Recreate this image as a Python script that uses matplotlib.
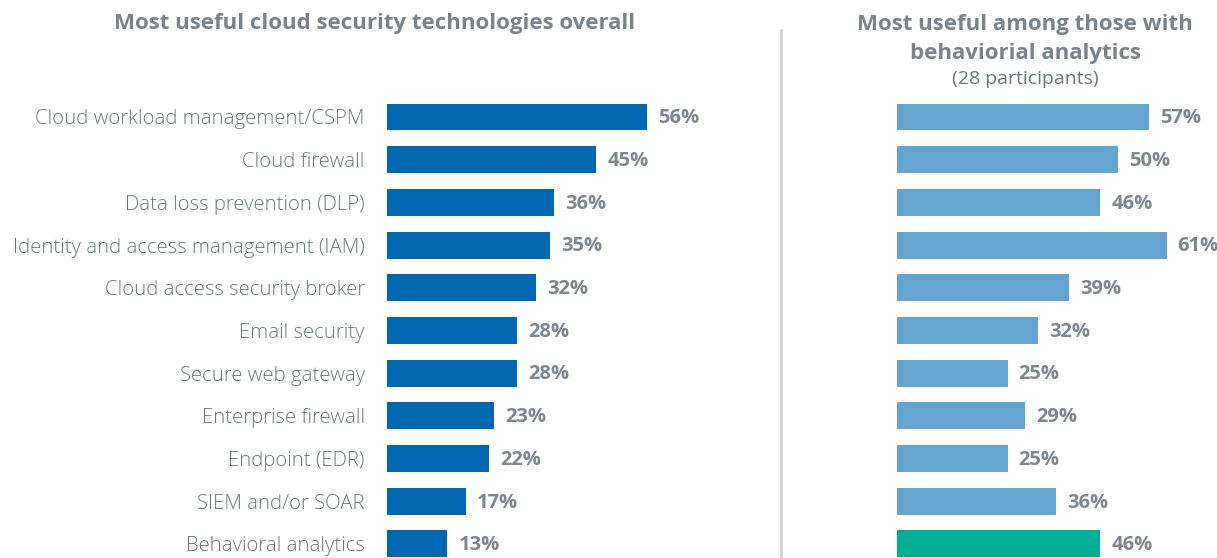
import matplotlib.pyplot as plt

categories = [
    "Cloud workload management/CSPM",
    "Cloud firewall",
    "Data loss prevention (DLP)",
    "Identity and access management (IAM)",
    "Cloud access security broker",
    "Email security",
    "Secure web gateway",
    "Enterprise firewall",
    "Endpoint (EDR)",
    "SIEM and/or SOAR",
    "Behavioral analytics",
]
overall = [56, 45, 36, 35, 32, 28, 28, 23, 22, 17, 13]
behavioral = [57, 50, 46, 61, 39, 32, 25, 29, 25, 36, 46]

left_title = "Most useful cloud security technologies overall"
right_title = "Most useful among those with\nbehaviorial analytics"
right_sub = "(28 participants)"

plt.rcParams['font.family'] = ['Open Sans', 'DejaVu Sans']

W, H = 1217, 558
fig = plt.figure(figsize=(W / 100, H / 100), dpi=100)

label_col = "#6E7780"
value_col = "#7F868D"
title_col = "#7B8289"

top = 1 - 95.65 / H
ylim = (10.33, -0.5)

# left panel
lscale = 4.65
axl = fig.add_axes([387 / W, 0, 373 / W, top])
ypos = list(range(len(categories)))
axl.barh(ypos, overall, height=0.63, color="#0067B1")
axl.set_xlim(0, 373 / lscale)
axl.set_ylim(*ylim)
for y, v in zip(ypos, overall):
    axl.text(v + 11 / lscale, y + 0.03, f"{v}%", va="center", ha="left", fontsize=14.5,
             fontweight="bold", color=value_col)
axl.set_yticks(ypos)
axl.set_yticklabels(categories, fontsize=14.7, color=label_col, fontweight="light")
axl.tick_params(axis="y", length=0, pad=16)
axl.set_xticks([])
for s in axl.spines.values():
    s.set_visible(False)

# right panel
rscale = 4.42
axr = fig.add_axes([897 / W, 0, 320 / W, top])
colors = ["#64A5D0"] * (len(categories) - 1) + ["#00AE96"]
axr.barh(ypos, behavioral, height=0.63, color=colors)
axr.set_xlim(0, 320 / rscale)
axr.set_ylim(*ylim)
for y, v in zip(ypos, behavioral):
    axr.text(v + 11 / rscale, y + 0.03, f"{v}%", va="center", ha="left", fontsize=14.5,
             fontweight="bold", color=value_col)
axr.set_xticks([])
axr.set_yticks([])
for s in axr.spines.values():
    s.set_visible(False)

# titles
fig.text(375 / W, 1 - 23 / H, left_title, ha="center", va="center",
         fontsize=16, fontweight="bold", color=title_col)
fig.text(1025 / W, 1 - 39 / H, right_title, ha="center", va="center",
         fontsize=16, fontweight="bold", color=title_col, linespacing=1.45)
fig.text(1025 / W, 1 - 79 / H, right_sub, ha="center", va="center",
         fontsize=14, color=label_col)

# divider
fig.add_artist(plt.Line2D([781 / W, 781 / W], [0, 1 - 30 / H],
                          transform=fig.transFigure, color="#D3D3D3", lw=2))

fig.savefig("out.png", dpi=100)
